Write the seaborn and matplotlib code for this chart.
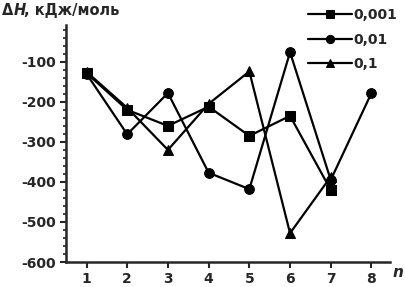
import seaborn as sns
import pandas as pd
import numpy as np
import matplotlib.pyplot as plt
from matplotlib.ticker import MultipleLocator

n = [1, 2, 3, 4, 5, 6, 7, 8]
dh_0001 = [-128, -220, -260, -212, -285, -235, -420]
dh_001 = [-130, -281, -178, -377, -418, -76, -395, -178]
dh_01 = [-125, -215, -320, -205, -124, -528, -387]
labels = ['0,001', '0,01', '0,1']

rows = []
for lab, vals in zip(labels, [dh_0001, dh_001, dh_01]):
    for x, v in zip(n, vals):
        rows.append({'n': x, 'dH': v, 'c': lab})
df = pd.DataFrame(rows)

sns.set_style('ticks')
plt.rcParams['font.family'] = ['DejaVu Sans']
plt.rcParams['font.weight'] = 'bold'
plt.rcParams['axes.unicode_minus'] = False

fig = plt.figure(figsize=(4.06, 2.87), dpi=100)
ax = fig.add_axes([0.163, 0.087, 0.797, 0.826])

sns.lineplot(data=df, x='n', y='dH', hue='c', style='c', hue_order=labels,
             palette=['black'] * 3, markers=['s', 'o', '^'], dashes=False,
             markersize=7, markeredgecolor='black', linewidth=1.6, ax=ax,
             legend=True)

ax.set_xlim(0.5, 8.45)
ax.set_ylim(-600, -8)
ax.set_xticks(n)
ax.yaxis.set_major_locator(MultipleLocator(100))
ax.yaxis.set_minor_locator(MultipleLocator(20))
ax.set_yticks([-600, -500, -400, -300, -200, -100])
ax.set_xlabel('')
ax.set_ylabel('')
sns.despine(ax=ax)
for s in ['left', 'bottom']:
    ax.spines[s].set_linewidth(1.8)
ax.tick_params(axis='both', which='major', labelsize=10, width=1.5, length=4)
ax.tick_params(axis='y', which='minor', width=1.2, length=2)
for t in ax.get_xticklabels() + ax.get_yticklabels():
    t.set_fontweight('bold')

leg = ax.legend(loc='upper right', bbox_to_anchor=(1.0, 1.0),
                bbox_transform=fig.transFigure, frameon=False, markerscale=0.85,
                handlelength=3.2, handletextpad=0.1, labelspacing=0.75,
                borderaxespad=0.2, prop={'size': 10, 'weight': 'bold'})

fig.text(0.005, 0.962, '\u0394', fontsize=10.5, fontweight='bold', va='center')
fig.text(0.033, 0.962, 'H', fontsize=10.5, fontweight='bold', fontstyle='italic', va='center')
fig.text(0.060, 0.962, ', \u043a\u0414\u0436/\u043c\u043e\u043b\u044c', fontsize=10.5,
         fontweight='bold', va='center')
fig.text(0.968, 0.05, 'n', fontsize=11, fontweight='bold', fontstyle='italic', va='center')

fig.savefig('out.png', dpi=100)
